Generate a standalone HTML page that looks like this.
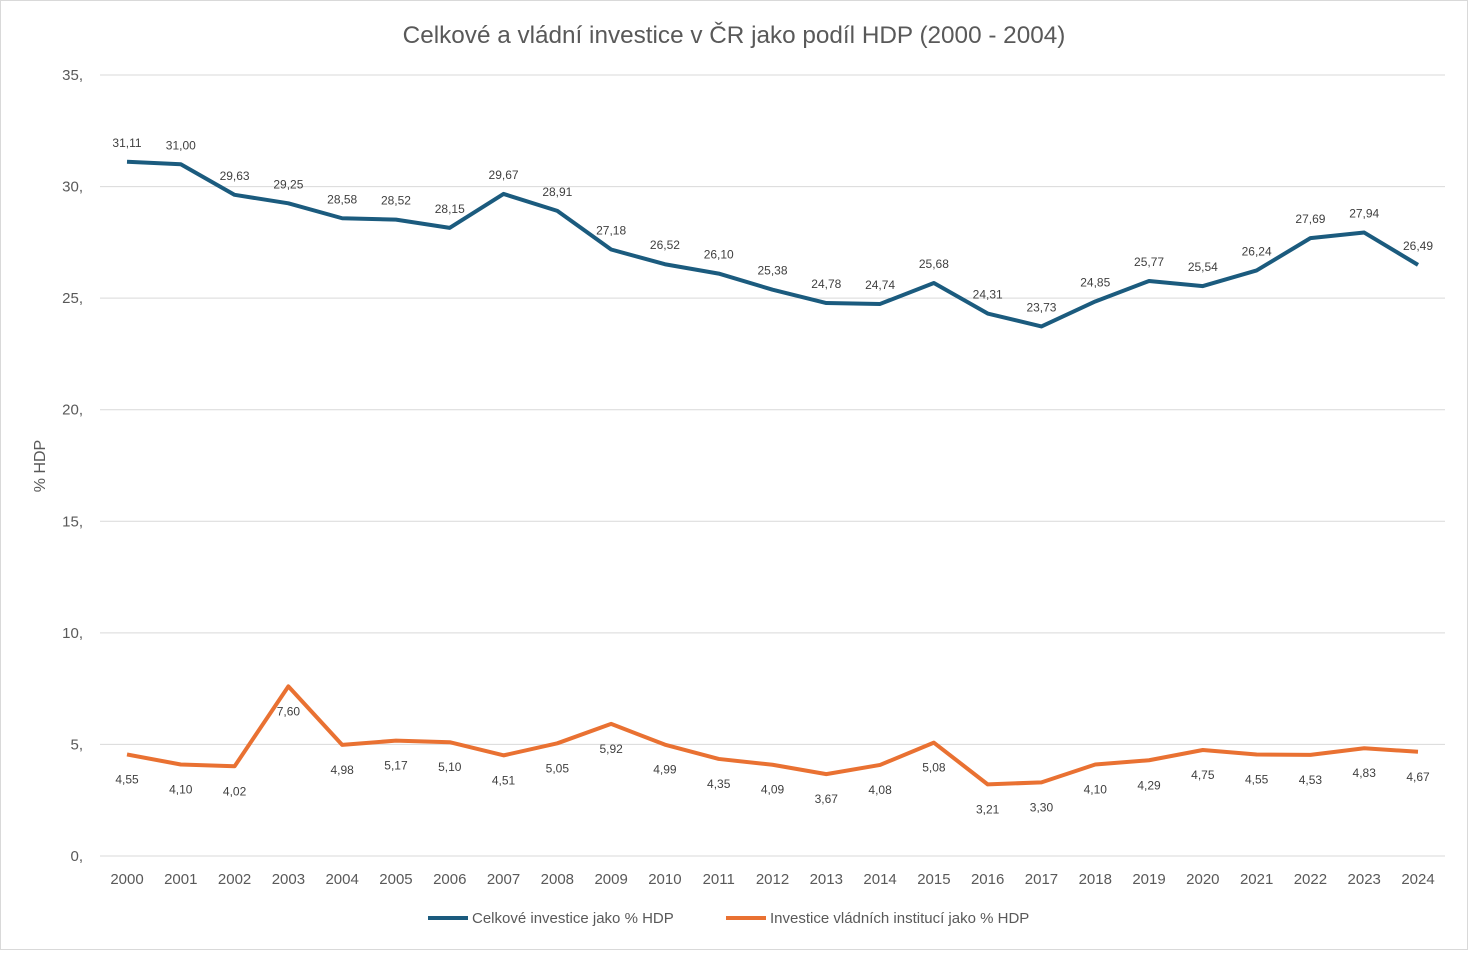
<!DOCTYPE html>
<html><head><meta charset="utf-8"><style>
body{margin:0;background:#fff;font-family:"Liberation Sans",sans-serif}
svg text{font-family:"Liberation Sans",sans-serif}
</style></head><body>
<svg id="c" width="1468" height="950" xmlns="http://www.w3.org/2000/svg">
<rect x="0.5" y="0.5" width="1467" height="949" fill="#fff" stroke="#d9d9d9"/>
<text x="734" y="43" text-anchor="middle" font-size="24.3" fill="#595959">Celkové a vládní investice v ČR jako podíl HDP (2000 - 2004)</text>
<text transform="translate(45,466) rotate(-90)" text-anchor="middle" font-size="16" fill="#595959">% HDP</text>
<g id="grid"></g><g id="marks"></g>
<g>
<line x1="428" y1="918" x2="468" y2="918" stroke="#1b5b7e" stroke-width="4"/>
<text x="472" y="923" font-size="15" fill="#595959">Celkové investice jako % HDP</text>
<line x1="726" y1="918" x2="766" y2="918" stroke="#e97132" stroke-width="4"/>
<text x="770" y="923" font-size="15" fill="#595959">Investice vládních institucí jako % HDP</text>
</g>
</svg>
<script>
const years=[2000,2001,2002,2003,2004,2005,2006,2007,2008,2009,2010,2011,2012,2013,2014,2015,2016,2017,2018,2019,2020,2021,2022,2023,2024];
const total=[31.11,31.00,29.63,29.25,28.58,28.52,28.15,29.67,28.91,27.18,26.52,26.10,25.38,24.78,24.74,25.68,24.31,23.73,24.85,25.77,25.54,26.24,27.69,27.94,26.49];
const gov=[4.55,4.10,4.02,7.60,4.98,5.17,5.10,4.51,5.05,5.92,4.99,4.35,4.09,3.67,4.08,5.08,3.21,3.30,4.10,4.29,4.75,4.55,4.53,4.83,4.67];
const yTicks=[0,5,10,15,20,25,30,35];
const NS="http://www.w3.org/2000/svg";
const x=i=>127+i*(1418-127)/(years.length-1);
const y=v=>856-v*(856-75)/35;
const fmt=v=>v.toFixed(2).replace('.',',');
const grid=document.getElementById('grid'),marks=document.getElementById('marks');
function mk(t,a,p){const e=document.createElementNS(NS,t);for(const k in a)e.setAttribute(k,a[k]);p.appendChild(e);return e;}
yTicks.forEach(t=>{
 const l=mk('line',{x1:100,x2:1445,y1:y(t),y2:y(t),stroke:'#d9d9d9','stroke-width':1},grid);
 
 
 const tx=mk('text',{x:83,y:y(t)+5,'text-anchor':'end','font-size':15,fill:'#595959'},grid);
 tx.textContent=t+',';
 
 
});
years.forEach((yr,i)=>{
 const tx=mk('text',{x:x(i),y:884,'text-anchor':'middle','font-size':15,fill:'#595959'},grid);
 tx.textContent=yr;
 
 
});
function series(vals,color,name,dy){
 const p=mk('polyline',{points:vals.map((v,i)=>x(i)+','+y(v)).join(' '),fill:'none',stroke:color,'stroke-width':4,'stroke-linejoin':'round'},marks);
 
 
 vals.forEach((v,i)=>{
  const t=mk('text',{x:x(i),y:y(v)+dy,'text-anchor':'middle','font-size':12,fill:'#404040'},marks);
  t.textContent=fmt(v);
  
  
 });
}
series(total,'#1b5b7e','total-investment',-15);
series(gov,'#e97132','gov-investment',29);
</script>
</body></html>
